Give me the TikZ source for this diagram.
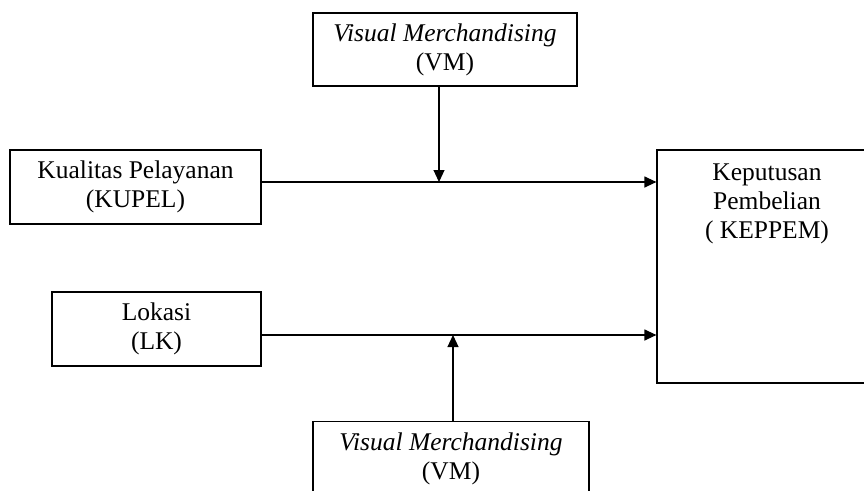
\documentclass[tikz,border=0pt]{standalone}
\usepackage{fontspec}
\setmainfont{Liberation Serif}
\usetikzlibrary{arrows.meta, positioning}

\tikzset{
  varbox/.style={draw, line width=1.2pt, align=center, inner sep=3pt,
    font=\fontsize{25.5}{29}\selectfont},
  link/.style={line width=1.2pt, -{Triangle[length=12pt, width=11pt]}}
}

\begin{document}
\begin{tikzpicture}[x=1pt, y=-1pt]
    \useasboundingbox (0,0) rectangle (864,490);
    \clip (0,0) rectangle (864,490);

    % variables
    \node[varbox, minimum width=264pt, minimum height=73pt] (vmtop) at (445, 49.5)
        {\textit{Visual Merchandising}\\(VM)};
    \node[varbox, minimum width=251pt, minimum height=74pt] (kupel) at (135.5, 187)
        {Kualitas Pelayanan\\(KUPEL)};
    \node[varbox, minimum width=209pt, minimum height=74pt] (lk) at (156.5, 329)
        {Lokasi\\(LK)};
    \node[varbox, minimum width=220pt, minimum height=233pt] (kep) at (767, 266.5) {};
    \node[varbox, draw=none, anchor=north, below=11pt of kep.north] (keptext)
        {Keputusan\\Pembelian\\( KEPPEM)};
    \node[varbox, minimum width=276pt, minimum height=74pt, anchor=north] (vmbot) at (451, 421)
        {\textit{Visual Merchandising}\\(VM)};

    % where the moderator meets each path
    \coordinate (mtop) at (439, 182);
    \coordinate (mbot) at (453, 335);

    \draw[link] (kupel.east |- mtop) -- (kep.west |- mtop);
    \draw[link] (lk.east |- mbot) -- (kep.west |- mbot);
    \draw[link] (vmtop.south -| mtop) -- (mtop);
    \draw[link] (vmbot.north -| mbot) -- (mbot);
\end{tikzpicture}
\end{document}
